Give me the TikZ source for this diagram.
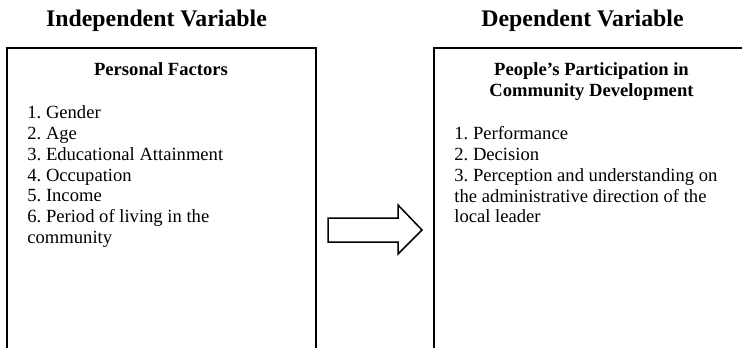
\documentclass[tikz,border=0pt]{standalone}
\usepackage{fontspec}
\setmainfont{Liberation Serif}
\frenchspacing
\begin{document}
\begin{tikzpicture}[x=0.5pt,y=-0.5pt,
  box/.style={draw, line width=1pt, inner sep=0pt},
  ttl/.style={font=\fontsize{11.9pt}{14pt}\selectfont\bfseries, anchor=base, inner sep=0pt},
  hd/.style={font=\fontsize{9.3pt}{10.35pt}\selectfont\bfseries, anchor=base, inner sep=0pt},
  itm/.style={font=\fontsize{9.3pt}{10.35pt}\selectfont, anchor=base west, inner sep=0pt},
  blockarrow/.style={draw, line width=0.75pt, line join=miter}]
\useasboundingbox (0,0) rectangle (742,347);
\clip (0,0) rectangle (742,347);
% boxes
\node[box, minimum width=154.5pt, minimum height=176pt] (lbox) at (161.5,224) {};
\node[box, minimum width=157.5pt, minimum height=176pt] (rbox) at (591.5,224) {};
% titles
\node[ttl] (ltitle) at (156.5,27) {Independent Variable};
\node[ttl] (rtitle) at (582.5,27) {Dependent Variable};
% left box content
\node[hd] (lhead) at (161,76) {Personal Factors};
\node[itm] (l1) at (27,119) {1. Gender};
\node[itm] (l2) at (27,139.7) {2. Age};
\node[itm] (l3) at (27,160.4) {3. Educational Attainment};
\node[itm] (l4) at (27,181.1) {4. Occupation};
\node[itm] (l5) at (27,201.8) {5. Income};
\node[itm] (l6) at (27,222.5) {6. Period of living in the};
\node[itm] (l7) at (27,243.2) {community};
% right box content
\node[hd] (rhead1) at (591.5,76) {People’s Participation in};
\node[hd] (rhead2) at (591.5,96.7) {Community Development};
\node[itm] (r1) at (454,140) {1. Performance};
\node[itm] (r2) at (454,160.7) {2. Decision};
\node[itm] (r3) at (454,181.4) {3. Perception and understanding on};
\node[itm] (r4) at (454,202.1) {the administrative direction of the};
\node[itm] (r5) at (454,222.8) {local leader};
% block arrow
\draw[blockarrow] (328,218) -- (398,218) -- (398,205) -- (422,230) -- (398,254) -- (398,242) -- (328,242) -- cycle;
\end{tikzpicture}
\end{document}
